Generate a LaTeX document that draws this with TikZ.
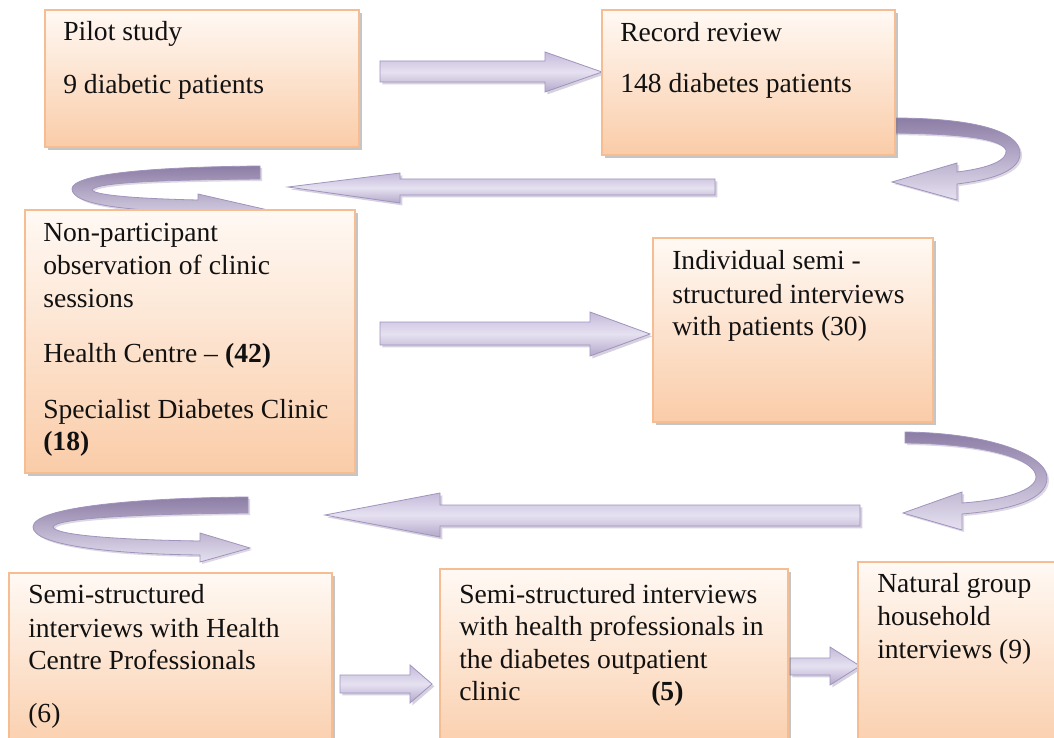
\documentclass[tikz,border=0pt]{standalone}
\usepackage{fontspec}
\setmainfont{Liberation Serif}
\usetikzlibrary{shadows,fit}
\definecolor{boxtop}{HTML}{FFF9F4}
\definecolor{boxbot}{HTML}{FACCA8}
\definecolor{boxedge}{HTML}{F6BD92}
\definecolor{lavlight}{HTML}{E6E1F1}
\definecolor{lavmid}{HTML}{C4BADA}
\definecolor{lavdark}{HTML}{8C7DA5}
\definecolor{lavedge}{HTML}{A093BD}
\definecolor{txtcol}{HTML}{111111}
\tikzset{
  box/.style={draw=boxedge, line width=1.2pt, top color=boxtop, bottom color=boxbot,
    inner sep=0pt, drop shadow={shadow xshift=2.2pt, shadow yshift=-2.2pt, fill=gray, opacity=0.45}},
  sarrow/.style={draw=lavedge, line width=0.6pt, top color=lavmid, bottom color=lavmid!70!lavdark,
    middle color=lavlight, drop shadow={shadow xshift=1.8pt, shadow yshift=-1.8pt, fill=lavdark, opacity=0.35}},
  carrow/.style={draw=lavedge, line width=0.6pt, top color=lavdark, bottom color=lavlight,
    drop shadow={shadow xshift=1.5pt, shadow yshift=-1.5pt, fill=lavdark, opacity=0.3}},
  txt/.style={inner sep=0pt, anchor=base west, text=txtcol, font=\fontsize{20.7}{24}\selectfont}
}
\begin{document}
\begin{tikzpicture}[x=0.75pt, y=-0.75pt]
\path[use as bounding box, fill=white] (0,0) rectangle (1054,738);
\clip (0,0) rectangle (1054,738);

% straight block arrows
\path[sarrow] (380,61) -- (545,61) -- (545,52) -- (602,72) -- (545,92) -- (545,82) -- (380,82) -- cycle;
\path[sarrow] (715,179) -- (400,179) -- (400,173) -- (288,187) -- (400,203) -- (400,195) -- (715,195) -- cycle;
\path[sarrow] (380,322) -- (590,322) -- (590,312) -- (650,334) -- (590,356) -- (590,345) -- (380,345) -- cycle;
\path[sarrow] (860,505) -- (440,505) -- (440,493) -- (325,515) -- (440,537) -- (440,526) -- (860,526) -- cycle;
\path[sarrow] (340,675) -- (410,675) -- (410,665) -- (432,684) -- (410,703) -- (410,693) -- (340,693) -- cycle;
\path[sarrow] (790,658) -- (830,658) -- (830,647) -- (860,666) -- (830,685) -- (830,675) -- (790,675) -- cycle;

% curved U-turn arrows
\path[carrow] (893,118) .. controls (970,118) and (1022,130) .. (1020,155)
  .. controls (1018,172) and (990,180) .. (957,184) -- (957,200) -- (892,182) -- (957,163) -- (957,172)
  .. controls (990,168) and (1008,160) .. (1006,150) .. controls (1000,138) and (960,134) .. (893,133) -- cycle;
\path[carrow] (260,166) -- (260,179) .. controls (150,180) and (95,183) .. (92,190)
  .. controls (95,196) and (150,199) .. (198,200) -- (198,194) -- (268,210) -- (198,226) -- (198,212)
  .. controls (130,211) and (72,205) .. (72,189) .. controls (72,174) and (150,167) .. (260,166) -- cycle;
\path[carrow] (905,432) .. controls (990,433) and (1047,455) .. (1047,478)
  .. controls (1047,500) and (1010,510) .. (962,514) -- (962,530) -- (903,513) -- (962,492) -- (962,503)
  .. controls (1005,500) and (1036,490) .. (1036,477) .. controls (1036,460) and (990,444) .. (905,443) -- cycle;
\path[carrow] (248,497) -- (248,513) .. controls (140,514) and (55,518) .. (53,527)
  .. controls (55,536) and (130,540) .. (200,541) -- (200,533) -- (250,548) -- (200,562) -- (200,555)
  .. controls (110,554) and (33,545) .. (33,527) .. controls (33,508) and (130,498) .. (248,497) -- cycle;

% boxes
\node[box, fit={(45,10)(359,147)}] (b1) {};
\node[box, fit={(602,10)(895,155)}] (b2) {};
\node[box, fit={(25,210)(355,473)}] (b3) {};
\node[box, fit={(653,238)(933,422)}] (b4) {};
\node[box, fit={(9,573)(332,760)}] (b5) {};
\node[box, fit={(440,569)(788,760)}] (b6) {};
\node[box, fit={(858,562)(1075,760)}] (b7) {};

% texts
\node[txt] (t1a) at (63,41) {Pilot study};
\node[txt] (t1b) at (63,94) {9 diabetic patients};
\node[txt] (t2a) at (620,42) {Record review};
\node[txt] (t2b) at (620,93) {148 diabetes patients};
\node[txt] (t3a) at (43,242) {Non-participant};
\node[txt] (t3b) at (43,275) {observation of clinic};
\node[txt] (t3c) at (43,307) {sessions};
\node[txt] (t3d) at (43,363) {Health Centre – \textbf{(42)}};
\node[txt] (t3e) at (43,418) {Specialist Diabetes Clinic};
\node[txt] (t3f) at (43,450) {\textbf{(18)}};
\node[txt] (t4a) at (672,270) {Individual semi -};
\node[txt] (t4b) at (672,303) {structured interviews};
\node[txt] (t4c) at (672,335) {with patients (30)};
\node[txt] (t5a) at (28,603) {Semi-structured};
\node[txt] (t5b) at (28,637) {interviews with Health};
\node[txt] (t5c) at (28,669) {Centre Professionals};
\node[txt] (t5d) at (28,722) {(6)};
\node[txt] (t6a) at (459,603) {Semi-structured interviews};
\node[txt] (t6b) at (459,635) {with health professionals in};
\node[txt] (t6c) at (459,668) {the diabetes outpatient};
\node[txt] (t6d) at (459,700) {clinic};
\node[txt] (t6e) at (651,700) {\textbf{(5)}};
\node[txt] (t7a) at (877,592) {Natural group};
\node[txt] (t7b) at (877,625) {household};
\node[txt] (t7c) at (877,658) {interviews (9)};
\end{tikzpicture}
\end{document}
